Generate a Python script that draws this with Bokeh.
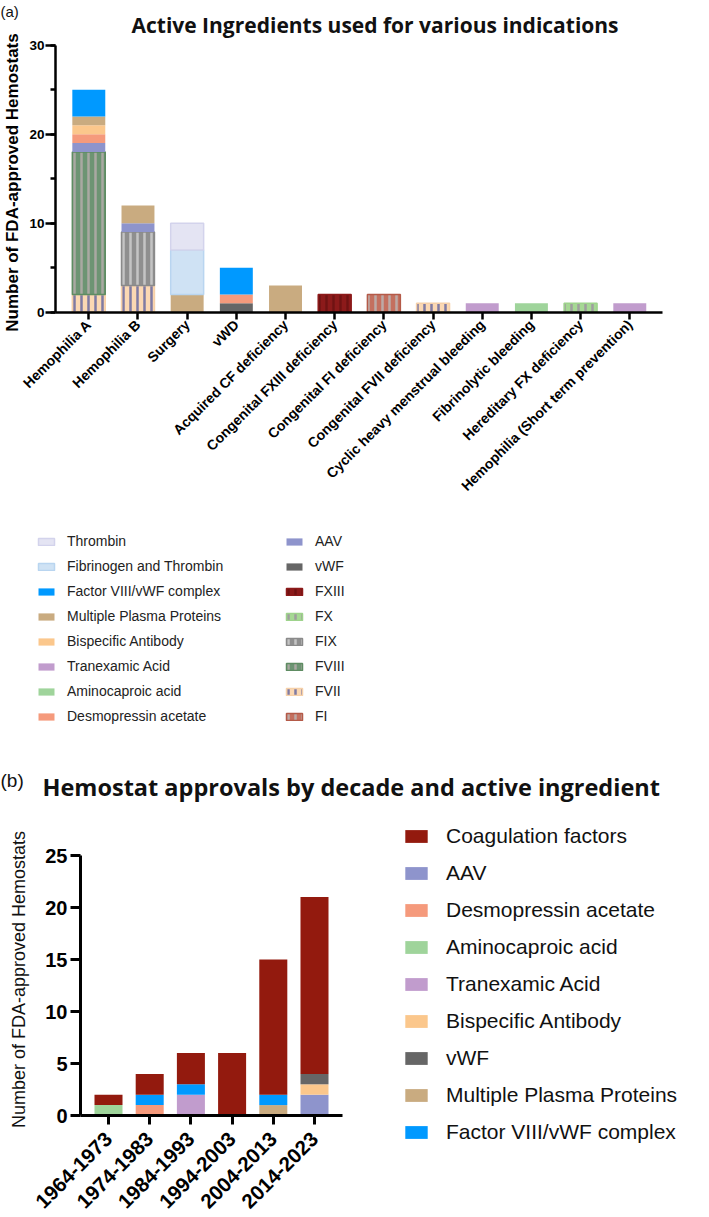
import math
from bokeh.plotting import figure
from bokeh.models import (ColumnDataSource, Range1d, SingleIntervalTicker, FixedTicker,
                          Label, Legend, LegendItem)
from bokeh.transform import stack
from bokeh.layouts import column
from bokeh.embed import file_html
from bokeh.resources import INLINE

# ---------------- DATA (a) ----------------
indications = ["Hemophilia A", "Hemophilia B", "Surgery", "vWD", "Acquired CF deficiency",
               "Congenital FXIII deficiency", "Congenital FI deficiency",
               "Congenital FVII deficiency", "Cyclic heavy menstrual bleeding",
               "Fibrinolytic bleeding", "Hereditary FX deficiency",
               "Hemophilia (Short term prevention)"]
a_FI = [0, 0, 0, 0, 0, 0, 2, 0, 0, 0, 0, 0]
a_FVII = [2, 3, 0, 0, 0, 0, 0, 1, 0, 0, 0, 0]
a_FVIII = [16, 0, 0, 0, 0, 0, 0, 0, 0, 0, 0, 0]
a_FIX = [0, 6, 0, 0, 0, 0, 0, 0, 0, 0, 0, 0]
a_FX = [0, 0, 0, 0, 0, 0, 0, 0, 0, 0, 1, 0]
a_FXIII = [0, 0, 0, 0, 0, 2, 0, 0, 0, 0, 0, 0]
a_vWF = [0, 0, 0, 1, 0, 0, 0, 0, 0, 0, 0, 0]
a_AAV = [1, 1, 0, 0, 0, 0, 0, 0, 0, 0, 0, 0]
a_desmopressin = [1, 0, 0, 1, 0, 0, 0, 0, 0, 0, 0, 0]
a_aminocaproic = [0, 0, 0, 0, 0, 0, 0, 0, 0, 1, 0, 0]
a_tranexamic = [0, 0, 0, 0, 0, 0, 0, 0, 1, 0, 0, 1]
a_bispecific = [1, 0, 0, 0, 0, 0, 0, 0, 0, 0, 0, 0]
a_plasma = [1, 2, 2, 0, 3, 0, 0, 0, 0, 0, 0, 0]
a_complex = [3, 0, 0, 3, 0, 0, 0, 0, 0, 0, 0, 0]
a_fib_thrombin = [0, 0, 5, 0, 0, 0, 0, 0, 0, 0, 0, 0]
a_thrombin = [0, 0, 3, 0, 0, 0, 0, 0, 0, 0, 0, 0]

# ---------------- DATA (b) ----------------
decades = ["1964-1973", "1974-1983", "1984-1993", "1994-2003", "2004-2013", "2014-2023"]
b_AAV = [0, 0, 0, 0, 0, 2]
b_desmopressin = [0, 1, 0, 0, 0, 0]
b_aminocaproic = [1, 0, 0, 0, 0, 0]
b_tranexamic = [0, 0, 2, 0, 0, 0]
b_bispecific = [0, 0, 0, 0, 0, 1]
b_vWF = [0, 0, 0, 0, 0, 1]
b_plasma = [0, 0, 0, 0, 1, 0]
b_complex = [0, 1, 1, 0, 1, 0]
b_coag = [1, 2, 3, 6, 13, 17]

FONT = "Liberation Sans"
TFONT = "Open Sans"
W = 709

# ---------------- layout constants (pixels) ----------------
H1 = 730
A_X0, A_DX = 88.3, 49.18      # canvas x of first category centre, px per category
A_Y0, A_DY = 311.7, 8.9       # canvas y of value 0, px per unit
A_AXIS_X = 55.0               # canvas x of y axis line
A_AXIS_R = 662.0              # right end of x axis line

H2 = 487
B_X0, B_DX = 108.0, 41.2
B_Y0, B_DY = 385.0, 10.4
B_AXIS_X = 80.0
B_AXIS_R = 342.0


def base_fig(h, x0, dx, y0, dy):
    xr = Range1d(-x0 / dx, (W - x0) / dx)
    yr = Range1d(-(h - y0) / dy, y0 / dy)
    p = figure(width=W, height=h, x_range=xr, y_range=yr, output_backend="svg",
               toolbar_location=None, min_border_left=0, min_border_right=0,
               min_border_top=0, min_border_bottom=0)
    p.outline_line_color = None
    p.grid.grid_line_color = None
    p.title.visible = False
    p.background_fill_color = "white"
    p.border_fill_color = "white"
    return p


def style_axis(axis, lw, tick_out, font_size, standoff, minor_out=0):
    axis.axis_line_width = lw
    axis.axis_line_color = "black"
    axis.major_tick_line_width = lw
    axis.major_tick_line_color = "black"
    axis.minor_tick_line_width = lw
    axis.minor_tick_line_color = "black"
    axis.major_tick_out = tick_out
    axis.major_tick_in = 0
    axis.minor_tick_out = minor_out
    axis.minor_tick_in = 0
    axis.major_label_text_font = FONT
    axis.major_label_text_font_style = "bold"
    axis.major_label_text_font_size = font_size
    axis.major_label_text_color = "black"
    axis.major_label_standoff = standoff


def lab(p, h, x, cy, text, **kw):
    p.add_layout(Label(x=x, y=h - cy, x_units="screen", y_units="screen", text=text, **kw))


# ---------------- FIGURE (a) ----------------
a_series = [  # bottom -> top
    ("FI", a_FI, dict(fill="#c4705f", line="#b45a48", hatch="#bcaaa6")),
    ("FVII", a_FVII, dict(fill="#fbd8b3", line="#f6d0a8", hatch="#7f7aa3")),
    ("FVIII", a_FVIII, dict(fill="#6d9473", line="#5e8c62", hatch="#aaa8a2")),
    ("FIX", a_FIX, dict(fill="#8f8f8f", line="#8a8a8a", hatch="#c4c4c4")),
    ("FX", a_FX, dict(fill="#a6d894", line="#9ed38c", hatch="#9e9e9e")),
    ("FXIII", a_FXIII, dict(fill="#8c1a1a", line="#8c1a1a", hatch="#701212")),
    ("vWF", a_vWF, dict(fill="#666666")),
    ("AAV", a_AAV, dict(fill="#8e94cc")),
    ("Desmopressin acetate", a_desmopressin, dict(fill="#f59a7c")),
    ("Aminocaproic acid", a_aminocaproic, dict(fill="#9fd49b")),
    ("Tranexamic Acid", a_tranexamic, dict(fill="#c19ccd")),
    ("Bispecific Antibody", a_bispecific, dict(fill="#fbc78c")),
    ("Multiple Plasma Proteins", a_plasma, dict(fill="#c9ab80")),
    ("Factor VIII/vWF complex", a_complex, dict(fill="#0099ff")),
    ("Fibrinogen and Thrombin", a_fib_thrombin, dict(fill="#cfe2f4", line="#b9d5f0")),
    ("Thrombin", a_thrombin, dict(fill="#e4e4f3", line="#d3d3ec")),
]

data_a = {"x": list(range(len(indications)))}
for i, (name, vals, st) in enumerate(a_series):
    data_a[f"s{i}"] = vals
    data_a[f"la{i}"] = [1.0 if v > 0 else 0.0 for v in vals]
src_a = ColumnDataSource(data_a)

p1 = base_fig(H1, A_X0, A_DX, A_Y0, A_DY)

renderers_a, first_idx = {}, {}
keys = [f"s{i}" for i in range(len(a_series))]
for i, (name, vals, st) in enumerate(a_series):
    kw = dict(fill_color=st["fill"])
    if "line" in st:
        kw.update(line_color=st["line"], line_width=1.5, line_alpha=f"la{i}")
    else:
        kw.update(line_color=None)
    if "hatch" in st:
        kw.update(hatch_pattern="vertical_line", hatch_color=st["hatch"],
                  hatch_weight=2.5, hatch_scale=7)
    r = p1.vbar(x="x", bottom=stack(*keys[:i]), top=stack(*keys[:i + 1]), width=0.67,
                source=src_a, **kw)
    renderers_a[name] = r
    first_idx[name] = next(j for j, v in enumerate(vals) if v > 0)

ya = p1.yaxis[0]
ya.fixed_location = (A_AXIS_X - A_X0) / A_DX
ya.bounds = (0, 30)
ya.ticker = SingleIntervalTicker(interval=10, num_minor_ticks=2)
style_axis(ya, 2.5, 10, "13.5px", 1, minor_out=5)

xa = p1.xaxis[0]
xa.fixed_location = 0
xa.bounds = ((A_AXIS_X - A_X0) / A_DX, (A_AXIS_R - A_X0) / A_DX)
xa.ticker = FixedTicker(ticks=list(range(len(indications))))
xa.major_label_overrides = {i: n for i, n in enumerate(indications)}
xa.major_label_orientation = math.pi / 4
style_axis(xa, 2.5, 7, "14px", 3)

lab(p1, H1, 0, 11, "(a)", text_font=FONT, text_font_size="15px", text_baseline="middle",
    text_color="#111111")
lab(p1, H1, 131, 24, "Active Ingredients used for various indications", text_font=TFONT,
    text_font_style="bold", text_font_size="21px", text_baseline="alphabetic",
    text_color="#111111")
lab(p1, H1, 12, 182, "Number of FDA-approved Hemostats", angle=math.pi / 2, text_font=FONT,
    text_font_style="bold", text_font_size="17px", text_align="center",
    text_baseline="middle", text_color="black")

col1 = ["Thrombin", "Fibrinogen and Thrombin", "Factor VIII/vWF complex",
        "Multiple Plasma Proteins", "Bispecific Antibody", "Tranexamic Acid",
        "Aminocaproic acid", "Desmopressin acetate"]
col2 = ["AAV", "vWF", "FXIII", "FX", "FIX", "FVIII", "FVII", "FI"]

A_LEG_BOTTOM = 724
for names, vx in ((col1, 36), (col2, 284)):
    items = [LegendItem(label=n, renderers=[renderers_a[n]], index=first_idx[n]) for n in names]
    lg = Legend(items=items, location=(vx, H1 - A_LEG_BOTTOM), orientation="vertical",
                padding=0, margin=0, spacing=9, glyph_width=20, glyph_height=9,
                label_height=9, label_standoff=11, label_text_font=FONT,
                label_text_font_size="14px", label_text_color="#222222",
                background_fill_alpha=0, border_line_alpha=0)
    p1.add_layout(lg)

# ---------------- FIGURE (b) ----------------
b_series = [  # bottom -> top
    ("AAV", b_AAV, "#8e94cc"),
    ("Desmopressin acetate", b_desmopressin, "#f59a7c"),
    ("Aminocaproic acid", b_aminocaproic, "#9fd49b"),
    ("Tranexamic Acid", b_tranexamic, "#c19ccd"),
    ("Bispecific Antibody", b_bispecific, "#fbc78c"),
    ("vWF", b_vWF, "#666666"),
    ("Multiple Plasma Proteins", b_plasma, "#c9ab80"),
    ("Factor VIII/vWF complex", b_complex, "#0099ff"),
    ("Coagulation factors", b_coag, "#931a0e"),
]
data_b = {"x": list(range(len(decades)))}
for i, (name, vals, c) in enumerate(b_series):
    data_b[f"s{i}"] = vals
src_b = ColumnDataSource(data_b)

p2 = base_fig(H2, B_X0, B_DX, B_Y0, B_DY)

keys_b = [f"s{i}" for i in range(len(b_series))]
renderers_b = {}
for i, (name, vals, c) in enumerate(b_series):
    r = p2.vbar(x="x", bottom=stack(*keys_b[:i]), top=stack(*keys_b[:i + 1]), width=0.68,
                source=src_b, fill_color=c, line_color=None)
    renderers_b[name] = r

yb = p2.yaxis[0]
yb.fixed_location = (B_AXIS_X - B_X0) / B_DX
yb.bounds = (0, 25)
yb.ticker = SingleIntervalTicker(interval=5, num_minor_ticks=0)
style_axis(yb, 3, 10, "20px", 3)

xb = p2.xaxis[0]
xb.fixed_location = 0
xb.bounds = ((B_AXIS_X - B_X0) / B_DX, (B_AXIS_R - B_X0) / B_DX)
xb.ticker = FixedTicker(ticks=list(range(len(decades))))
xb.major_label_overrides = {i: n for i, n in enumerate(decades)}
xb.major_label_orientation = math.pi / 4
style_axis(xb, 3, 9, "20.5px", 11)

lab(p2, H2, 0, 50, "(b)", text_font=FONT, text_font_size="19px", text_baseline="middle",
    text_color="#111111")
lab(p2, H2, 42, 56, "Hemostat approvals by decade and active ingredient", text_font=TFONT,
    text_font_style="bold", text_font_size="23.5px", text_baseline="alphabetic",
    text_color="#111111")
lab(p2, H2, 18.5, 249, "Number of FDA-approved Hemostats", angle=math.pi / 2, text_font=FONT,
    text_font_size="18px", text_align="center", text_baseline="middle",
    text_color="#111111")

leg_b_order = ["Coagulation factors", "AAV", "Desmopressin acetate", "Aminocaproic acid",
               "Tranexamic Acid", "Bispecific Antibody", "vWF", "Multiple Plasma Proteins",
               "Factor VIII/vWF complex"]
B_LEG_BOTTOM = 414
lgb = Legend(items=[LegendItem(label=n, renderers=[renderers_b[n]]) for n in leg_b_order],
             location=(402, H2 - B_LEG_BOTTOM), orientation="vertical", padding=0, margin=0,
             spacing=13, glyph_width=28, glyph_height=16, label_height=16, label_standoff=16,
             label_text_font=FONT, label_text_font_size="21px", label_text_color="#111111",
             background_fill_alpha=0, border_line_alpha=0)
p2.add_layout(lgb)

layout = column(p1, p2, spacing=0)
open("out.html", "w").write(file_html(layout, INLINE))
